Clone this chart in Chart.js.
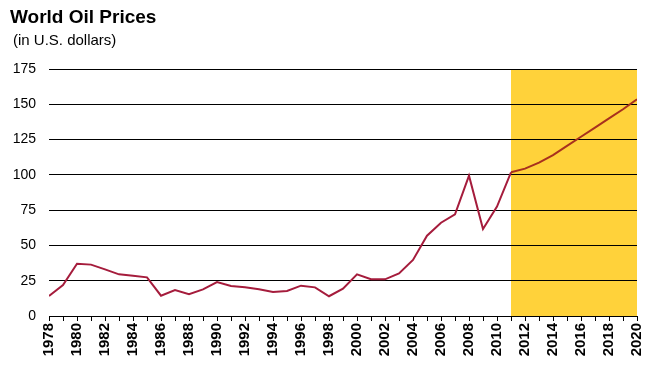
<!DOCTYPE html>
<html>
<head>
<meta charset="utf-8">
<script src="https://cdn.jsdelivr.net/npm/chart.js@4"></script>
<style>
  html, body { margin: 0; padding: 0; background: #fff; }
  #wrap { position: relative; width: 658px; height: 375px; }
  #title { position: absolute; left: 10px; top: 6px; font: bold 19px "Liberation Sans", Arial, sans-serif; color: #000; }
  #sub { position: absolute; left: 13px; top: 31px; font: 15px "Liberation Sans", Arial, sans-serif; color: #000; }
  canvas { position: absolute; left: 0; top: 0; }
</style>
</head>
<body>
<div id="wrap">
  <canvas id="oilChart" width="658" height="375"></canvas>
  <div id="title">World Oil Prices</div>
  <div id="sub">(in U.S. dollars)</div>
</div>
<script>
  // 연도 / 유가 (달러)
  const years = [1978, 1979, 1980, 1981, 1982, 1983, 1984, 1985, 1986, 1987,
                 1988, 1989, 1990, 1991, 1992, 1993, 1994, 1995, 1996, 1997,
                 1998, 1999, 2000, 2001, 2002, 2003, 2004, 2005, 2006, 2007,
                 2008, 2009, 2010, 2011, 2012, 2013, 2014, 2015, 2016, 2017,
                 2018, 2019, 2020];
  const prices = [14.2, 22, 37, 36.4, 33, 29.5, 28.6, 27.4, 14.4, 18.4,
                  15.4, 18.9, 24, 21.3, 20.3, 18.9, 17, 17.7, 21.5, 20.3,
                  14, 19.4, 29.5, 26, 26, 30.2, 39.7, 56.9, 66.1, 72,
                  99.4, 61.7, 77.5, 101.8, 104.4, 108.7, 114, 120.5, 127, 133.5,
                  140, 146.5, 153.6];
  const yTicks = [0, 25, 50, 75, 100, 125, 150, 175];
  const forecastFrom = 2011;

  // 예측 구간 노란 배경
  const shadePlugin = {
    id: 'shade',
    beforeDraw(chart) {
      const { ctx, chartArea, scales } = chart;
      const x0 = scales.x.getPixelForValue(forecastFrom);
      const x1 = scales.x.getPixelForValue(years[years.length - 1]);
      ctx.save();
      ctx.fillStyle = '#FFD23A';
      ctx.fillRect(x0, chartArea.top, x1 - x0, chartArea.bottom - chartArea.top);
      ctx.restore();
    }
  };

  const ctx = document.getElementById('oilChart');
  new Chart(ctx, {
    type: 'line',
    data: {
      datasets: [{
        label: 'World Oil Prices',
        data: years.map((yr, i) => ({ x: yr, y: prices[i] })),
        borderColor: '#A51C3C',
        borderWidth: 2,
        pointRadius: 0,
        tension: 0,
        segment: {
          borderColor: c => c.p0.parsed.x >= forecastFrom ? '#A8301E' : undefined
        }
      }]
    },
    options: {
      responsive: false,
      animation: false,
      layout: { padding: { top: 69, right: 21, bottom: 0, left: 0 } },
      plugins: {
        legend: { display: false },
        tooltip: { enabled: false }
      },
      scales: {
        x: {
          type: 'linear',
          min: years[0],
          max: years[years.length - 1],
          afterFit: s => { s.height = 59; },
          ticks: {
            stepSize: 1,
            autoSkip: false,
            maxRotation: 90,
            minRotation: 90,
            padding: 2,
            color: '#000',
            font: { family: '"Liberation Sans", Arial', size: 15, weight: 'bold' },
            callback: v => (v % 2 === 0 ? String(v) : '')
          },
          grid: {
            drawOnChartArea: false,
            drawTicks: true,
            tickLength: 5,
            color: '#000'
          },
          border: { display: true, color: '#000', width: 1 }
        },
        y: {
          min: 0,
          max: 175,
          afterFit: s => { s.width = 49; },
          afterBuildTicks: s => { s.ticks = yTicks.map(v => ({ value: v })); },
          ticks: {
            padding: 13,
            color: '#000',
            font: { family: '"Liberation Sans", Arial', size: 14 }
          },
          grid: { color: '#000', lineWidth: 1, drawTicks: false },
          border: { display: false }
        }
      }
    },
    plugins: [shadePlugin]
  });
</script>
</body>
</html>
